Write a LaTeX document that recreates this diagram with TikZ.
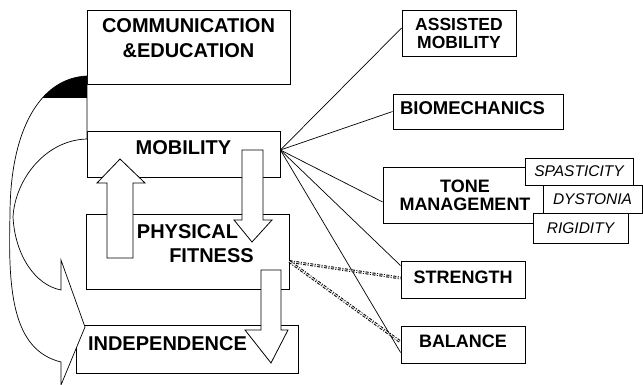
\documentclass[tikz,border=0pt]{standalone}
\usepackage{fontspec}
\setmainfont{Liberation Sans}

\begin{document}
\begin{tikzpicture}[x=1pt,y=-1pt,
	box/.style={draw,fill=white,line width=.8pt,inner sep=0pt,align=center},
	bigtxt/.style={font=\bfseries\fontsize{20}{25}\selectfont},
	midtxt/.style={font=\bfseries\fontsize{18}{18}\selectfont},
	subtxt/.style={font=\itshape\fontsize{15.5}{16}\selectfont},
	lift/.style={text depth=#1},
	link/.style={line width=.7pt},
	dotlink/.style={line width=1pt,double,double distance=.8pt,dash pattern=on 3pt off 1.5pt on 1pt off 1.5pt},
	blockarrow/.style={draw,fill=white,line width=.8pt,line join=miter}]
			\useasboundingbox (0,0) rectangle (643,385);
			
			% left column
			\node[box,bigtxt,lift=17pt,minimum width=203pt,minimum height=74pt] (comm) at (188.5,47) {COMMUNICATION\\\&EDUCATION};
			\node[box,bigtxt,lift=13pt,minimum width=193pt,minimum height=46pt] (mob) at (183.5,154) {MOBILITY};
			\node[box,bigtxt,lift=15pt,minimum width=203pt,minimum height=75pt,font=\bfseries\fontsize{20}{24}\selectfont] (fit) at (187.5,251.5) {PHYSICAL\\\hspace*{48pt}FITNESS};
			\node[box,bigtxt,lift=10pt,minimum width=222pt,minimum height=48pt] (indep) at (187,349) {INDEPENDENCE\hspace{39pt}};
			
			% right column
			\node[box,midtxt,font=\bfseries\fontsize{17.5}{18}\selectfont,minimum width=114pt,minimum height=46pt] (assist) at (459,33) {ASSISTED\\MOBILITY};
			\node[box,midtxt,font=\bfseries\fontsize{18.5}{18}\selectfont,lift=6pt,minimum width=170pt,minimum height=35pt] (biomech) at (478,111.5) {BIOMECHANICS\hspace{11pt}};
			\node[box,midtxt,minimum width=164pt,minimum height=56pt] (tone) at (465,195) {TONE\\MANAGEMENT\hspace{4pt}};
			\node[box,subtxt,minimum width=108pt,minimum height=27pt] (spast) at (579,171.5) {SPASTICITY};
			\node[box,subtxt,minimum width=99pt,minimum height=28pt] (dyst) at (592.5,199) {DYSTONIA};
			\node[box,subtxt,minimum width=95pt,minimum height=30pt] (rigid) at (580.5,228) {RIGIDITY};
			\node[box,midtxt,lift=5pt,minimum width=124pt,minimum height=37pt] (strength) at (463,279.5) {STRENGTH};
			\node[box,midtxt,lift=7pt,minimum width=124pt,minimum height=37pt] (balance) at (463,344.5) {BALANCE};
			
			% curved ribbon back to independence
			\draw[fill=white,line width=.7pt,line join=miter] (87,76) .. controls (40,78) and (10,130) .. (10,215)
				.. controls (8,290) and (12,350) .. (61,362) -- (61,385) -- (85,327) -- (61,260) -- (61,290)
				.. controls (35,285) and (15,255) .. (13,217) .. controls (15,180) and (45,140) .. (87,139) -- cycle;
			\begin{scope}
				\clip (87,76) .. controls (40,78) and (10,130) .. (10,215) -- (87,215) -- cycle;
				\fill[black] (0,60) rectangle (87,98);
			\end{scope}
			
			% block arrows between the left boxes
			\draw[blockarrow] (107,258) -- (107,183) -- (97,183) -- (120,159) -- (145,183) -- (133,183) -- (133,258) -- cycle;
			\draw[blockarrow] (242,150) -- (242,220) -- (234,220) -- (252,242) -- (272,220) -- (263,220) -- (263,150) -- cycle;
			\draw[blockarrow] (261,270) -- (261,330) -- (245,330) -- (271,363) -- (288,330) -- (281,330) -- (281,270) -- cycle;
			
			% links out of mobility
			\coordinate (hub) at ([yshift=4pt]mob.east);
			\draw[link] (hub) -- ([yshift=5pt]assist.west);
			\draw[link] (hub) -- (biomech.west);
			\draw[link] (hub) -- ([yshift=-7pt]tone.west);
			\draw[link] (hub) -- ([yshift=-5pt]strength.north west);
			\draw[link] (hub) -- ([yshift=-8pt]balance.west);
			
			% links out of physical fitness
			\coordinate (fitout) at ([yshift=-10pt]fit.east);
			\draw[dotlink] (fitout) -- ([yshift=1.5pt]strength.west);
			\draw[dotlink] (fitout) -- ([yshift=2.5pt]balance.west);
\end{tikzpicture}
\end{document}
